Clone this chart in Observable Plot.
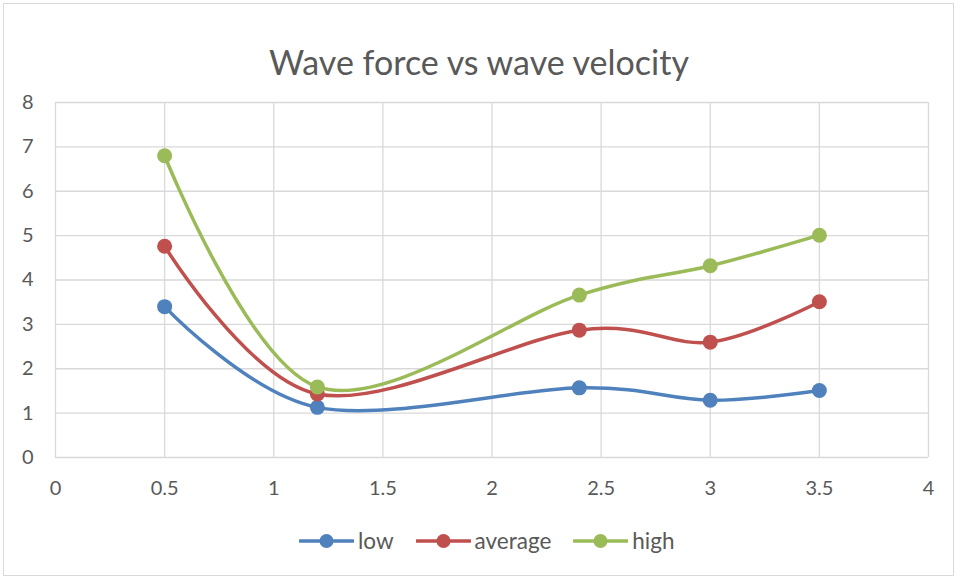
<!DOCTYPE html>
<html><head><meta charset="utf-8">
<script src="https://cdn.jsdelivr.net/npm/d3@7"></script>
<script src="https://cdn.jsdelivr.net/npm/@observablehq/plot@0.6"></script>
<style>
body{margin:0;background:#fff;font-family:Lato,"Open Sans",sans-serif;}
#chart{position:relative;width:958px;height:579px;overflow:hidden;}
#frame{position:absolute;left:3px;top:3px;width:951px;height:573px;border:1px solid #d9d9d9;box-sizing:border-box;pointer-events:none}
#title{position:absolute;left:0;width:958px;top:40px;text-align:center;font-size:34px;color:#595959;line-height:44px;}
#legend{position:absolute;top:527px;left:299px;display:flex;align-items:center;font-size:22.5px;color:#595959;}
.item{display:flex;align-items:center;margin-right:22px;}
.item svg{margin-right:4px;}
</style></head>
<body>
<div id="chart"><div id="frame"></div><div id="title"></div><div id="legend"></div></div>
<script>
const titleText = "Wave force vs wave velocity";
const series = ["low", "average", "high"];
const colors = ["#4f81bd", "#c0504d", "#9bbb59"];
const velocity = [0.5, 1.2, 2.4, 3, 3.5];
const low = [3.40, 1.13, 1.57, 1.29, 1.51];
const average = [4.76, 1.43, 2.87, 2.60, 3.51];
const high = [6.80, 1.59, 3.66, 4.32, 5.01];
const xTicks = [0, 0.5, 1, 1.5, 2, 2.5, 3, 3.5, 4];
const yTicks = [0, 1, 2, 3, 4, 5, 6, 7, 8];

const values = {low, average, high};
const rows = series.flatMap(s => velocity.map((v, i) => ({series: s, x: v, y: values[s][i]})));

const plot = Plot.plot({
  width: 958, height: 579,
  marginLeft: 55, marginRight: 30, marginTop: 102, marginBottom: 122,
  style: {fontFamily: "Lato, 'Open Sans', sans-serif", fontSize: "20px", color: "#595959", background: "transparent"},
  x: {domain: [0, 4], label: null},
  y: {domain: [0, 8], label: null},
  color: {domain: series, range: colors},
  marks: [
    Plot.gridX(xTicks, {stroke: "#d9d9d9", strokeOpacity: 1, strokeWidth: 1.3}),
    Plot.gridY(yTicks, {stroke: "#d9d9d9", strokeOpacity: 1, strokeWidth: 1.3}),
    Plot.axisX(xTicks, {tickSize: 0, tickPadding: 23, fontSize: 20, fill: "#595959", label: null, tickFormat: d => String(d)}),
    Plot.axisY(yTicks, {tickSize: 0, tickPadding: 22, fontSize: 20, fill: "#595959", label: null}),
    Plot.line(rows, {x: "x", y: "y", z: "series", stroke: "series", strokeWidth: 3.5, curve: "cardinal", tension: 0}),
    Plot.dot(rows, {x: "x", y: "y", fill: "series", r: 7.5})
  ]
});
document.getElementById("chart").insertBefore(plot, document.getElementById("frame"));
plot.style.position = "absolute"; plot.style.left = "0"; plot.style.top = "0";
document.getElementById("title").textContent = titleText;

const legend = document.getElementById("legend");
series.forEach((s, i) => {
  const item = document.createElement("div");
  item.className = "item";
  item.innerHTML = `<svg width="55" height="18"><line x1="1" x2="54" y1="9" y2="9" stroke="${colors[i]}" stroke-width="3.5" stroke-linecap="round"/><circle cx="27.5" cy="9" r="7" fill="${colors[i]}"/></svg><span>${s}</span>`;
  legend.appendChild(item);
});
</script>
</body></html>
